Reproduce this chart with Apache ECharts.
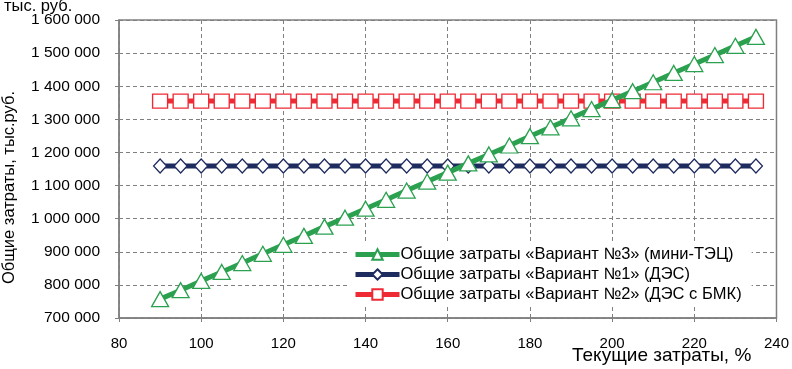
<!DOCTYPE html>
<html>
<head>
<meta charset="utf-8">
<script src="https://cdn.jsdelivr.net/npm/echarts@6/dist/echarts.min.js"></script>
<style>
  html, body { margin: 0; padding: 0; background: #fff; }
  #chart { width: 792px; height: 369px; }
</style>
</head>
<body>
<div id="chart"></div>
<script>
// текущие затраты, %
const xValues = [90, 95, 100, 105, 110, 115, 120, 125, 130, 135, 140, 145, 150, 155, 160,
  165, 170, 175, 180, 185, 190, 195, 200, 205, 210, 215, 220, 225, 230, 235]
// общие затраты, тыс. руб.
const variant3 = [757000, 784000, 812000, 839000, 866000, 894000, 921000, 948000, 976000, 1003000,
  1030000, 1057000, 1085000, 1112000, 1139000, 1167000, 1194000, 1221000, 1249000, 1276000,
  1303000, 1331000, 1358000, 1385000, 1412000, 1440000, 1467000, 1494000, 1522000, 1549000]
const variant1 = xValues.map(() => 1159000)
const variant2 = xValues.map(() => 1355000)

const seriesNames = [
  'Общие затраты «Вариант №3» (мини-ТЭЦ)',
  'Общие затраты «Вариант №1» (ДЭС)',
  'Общие затраты «Вариант №2» (ДЭС с БМК)'
]

const font = '"Liberation Sans", Arial, sans-serif'

function pairs(ys) {
  return xValues.map((x, i) => [x, ys[i]])
}

function fmt(v) {
  return String(v).replace(/\B(?=(\d{3})+(?!\d))/g, ' ')
}

const chart = echarts.init(document.getElementById('chart'))

const option = {
  animation: false,
  grid: { left: 119, right: 15, top: 20, bottom: 51, show: true, borderColor: '#808080', borderWidth: 1.5 },
  graphic: [
    {
      type: 'text', left: 4, top: -2,
      style: { text: 'тыс. руб.', font: '16.5px ' + font, fill: '#000' }
    },
    {
      type: 'text', x: 1, y: 284, rotation: Math.PI / 2,
      style: { text: 'Общие затраты, тыс.руб.', font: '16.5px ' + font, fill: '#000' }
    },
    {
      type: 'text', left: 572, top: 346,
      style: { text: 'Текущие затраты, %', font: '19px ' + font, fill: '#000' }
    }
  ],
  legend: {
    orient: 'vertical',
    left: 349,
    top: 242,
    itemWidth: 44,
    itemHeight: 13,
    itemGap: 3,
    padding: [4, 10, 4, 4],
    backgroundColor: '#fff',
    lineStyle: { width: 5 },
    textStyle: { fontFamily: font, fontSize: 16.5, color: '#000', padding: [0, 0, 0, -4] },
    data: seriesNames
  },
  xAxis: {
    type: 'value',
    min: 80, max: 240, interval: 20,
    axisLine: { show: true, lineStyle: { color: '#808080', width: 1.5 } },
    axisTick: { show: true, length: 4, lineStyle: { color: '#808080' } },
    axisLabel: { margin: 18, fontFamily: font, fontSize: 15, color: '#000' },
    splitLine: { show: true, lineStyle: { color: '#7f7f7f', type: [4, 3], width: 1 } }
  },
  yAxis: {
    type: 'value',
    min: 700000, max: 1600000, interval: 100000,
    axisLine: { show: true, lineStyle: { color: '#808080', width: 1.5 } },
    axisTick: { show: true, length: 4, lineStyle: { color: '#808080' } },
    axisLabel: { margin: 19, fontFamily: font, fontSize: 15.5, color: '#000', formatter: fmt },
    splitLine: { show: true, lineStyle: { color: '#7f7f7f', type: [4, 3], width: 1 } }
  },
  series: [
    {
      name: seriesNames[0],
      type: 'line',
      data: pairs(variant3),
      symbol: 'triangle',
      symbolSize: [17, 15],
      z: 4,
      lineStyle: { color: '#2ba150', width: 5 },
      itemStyle: { color: '#fff', borderColor: '#2ba150', borderWidth: 1.3 }
    },
    {
      name: seriesNames[1],
      type: 'line',
      data: pairs(variant1),
      symbol: 'diamond',
      symbolSize: [13, 14],
      z: 2,
      lineStyle: { color: '#1e2b5e', width: 5 },
      itemStyle: { color: '#fff', borderColor: '#1e2b5e', borderWidth: 1.3 }
    },
    {
      name: seriesNames[2],
      type: 'line',
      data: pairs(variant2),
      symbol: 'rect',
      symbolSize: [15, 14],
      z: 3,
      lineStyle: { color: '#ee2a35', width: 5 },
      itemStyle: { color: '#fff', borderColor: '#ee2a35', borderWidth: 1.3 }
    }
  ]
}

chart.setOption(option)
</script>
</body>
</html>
